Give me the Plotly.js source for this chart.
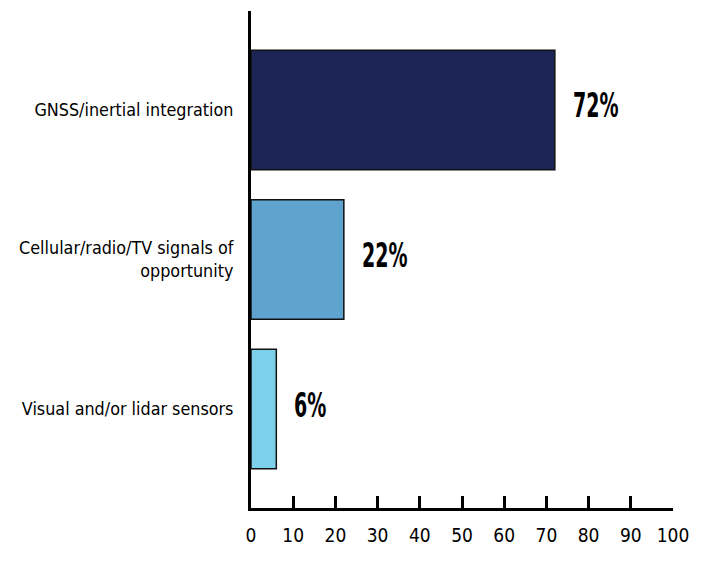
<!DOCTYPE html>
<html><head><meta charset="utf-8">
<script src="https://cdn.plot.ly/plotly-3.0.1.min.js"></script>
<style>
html,body{margin:0;padding:0;background:#fff}
#chart .annotation-text{transform-box:fill-box;transform-origin:left center;transform:scaleX(0.64)}
</style>
</head><body>
<div id="chart" style="width:720px;height:565px"></div>
<script>
const categories = ["GNSS/inertial integration", "Cellular/radio/TV signals of<br>opportunity", "Visual and/or lidar sensors"];
const values = [72, 22, 6];
const valueLabels = ["72%", "22%", "6%"];
const barColors = ["#1c2556", "#5fa3cf", "#7dd0ea"];
const tickValues = [0,10,20,30,40,50,60,70,80,90,100];

const FONT = "'DejaVu Sans Condensed', 'Liberation Sans Narrow', sans-serif";

const trace = {
  type: "bar", orientation: "h",
  x: values, y: categories,
  marker: {color: barColors, line: {color: "#111", width: 1.5}},
  hoverinfo: "none"
};

const annotations = values.map((v, i) => ({
  x: v, y: categories[i], xref: "x", yref: "y",
  text: "<b>" + valueLabels[i] + "</b>", showarrow: false,
  xanchor: "left", yanchor: "middle", xshift: 16, yshift: 4,
  font: {family: FONT, size: 33, color: "#000"}
}));

const layout = {
  width: 720, height: 565,
  margin: {l: 251, r: 47, t: 11, b: 57},
  paper_bgcolor: "#fff", plot_bgcolor: "#fff",
  showlegend: false,
  bargap: 0.2,
  font: {family: FONT, color: "#000"},
  xaxis: {
    range: [0, 100], tickvals: tickValues, ticktext: tickValues.map(String),
    ticks: "inside", ticklen: 12, tickwidth: 3, tickcolor: "#000",
    showline: true, linewidth: 3, linecolor: "#000",
    showgrid: false, zeroline: false, fixedrange: true,
    tickfont: {family: FONT, size: 19, color: "#000"}, ticklabelstandoff: 8
  },
  yaxis: {
    type: "category", autorange: false, range: [2.662, -0.662],
    showline: true, linewidth: 3, linecolor: "#000",
    ticks: "", showgrid: false, zeroline: false, fixedrange: true,
    tickfont: {family: FONT, size: 17.8, color: "#000"}, ticklabelstandoff: 11
  },
  annotations: annotations
};

Plotly.newPlot("chart", [trace], layout, {displayModeBar: false, staticPlot: true});
</script>
</body></html>
